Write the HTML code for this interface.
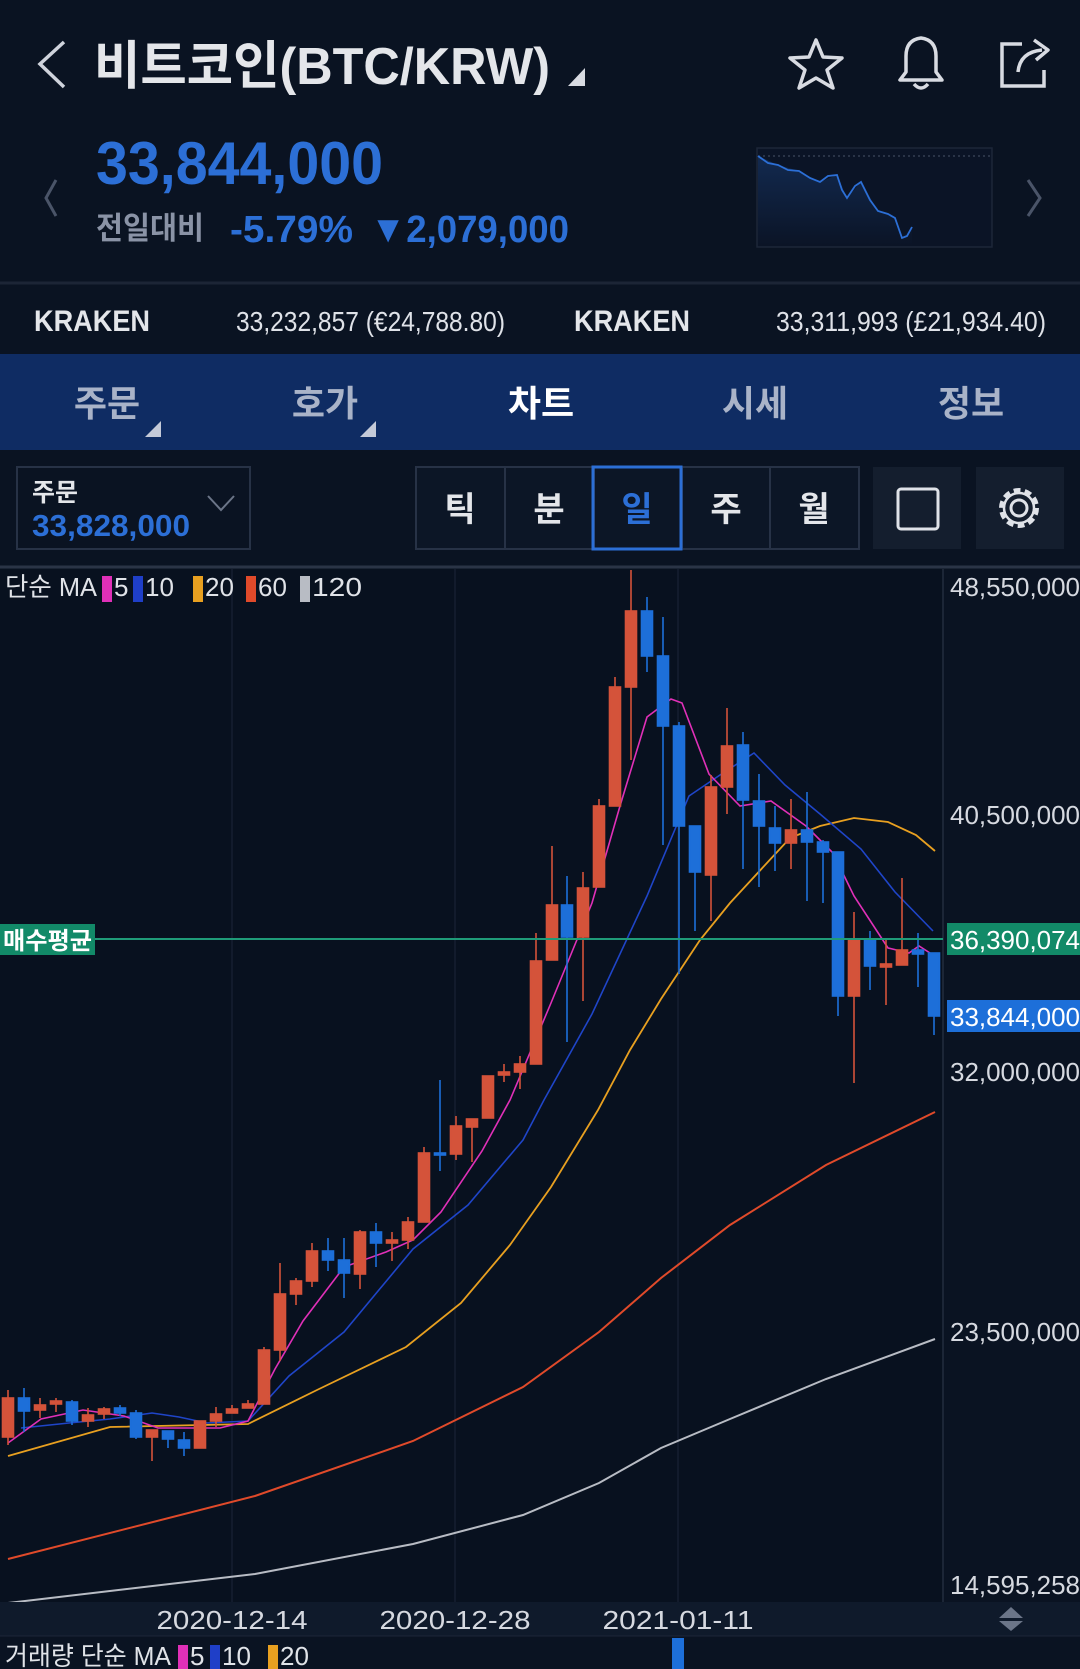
<!DOCTYPE html>
<html><head><meta charset="utf-8">
<style>
html,body{margin:0;padding:0;background:#0a1322;}
body{width:1080px;height:1669px;position:relative;overflow:hidden;font-family:"Liberation Sans","Noto Sans CJK KR",sans-serif;color:#e6e8ee;}
.a{position:absolute;white-space:nowrap;}
</style></head><body>
<svg class="a" style="left:0;top:0" width="1080" height="1669" xmlns="http://www.w3.org/2000/svg" font-family="Liberation Sans, Noto Sans CJK KR, sans-serif">
<!-- header -->
<polyline points="64,42 40,64 64,87" fill="none" stroke="#cfd3dc" stroke-width="3.5"/>
<text x="94" y="84" font-size="52" font-weight="bold" fill="#e4e6ea" textLength="456" lengthAdjust="spacingAndGlyphs">비트코인(BTC/KRW)</text>
<polygon points="568,86 585,86 585,68" fill="#d8dbe2"/>
<polygon points="816,40 823,57 842,58 827,70 833,88 816,78 799,88 805,70 790,58 809,57" fill="none" stroke="#d8dbe2" stroke-width="3.5" stroke-linejoin="round"/>
<path d="M900,80 L942,80 L936,72 L936,56 Q936,40 921,38 Q906,40 906,56 L906,72 Z" fill="none" stroke="#d8dbe2" stroke-width="3.5" stroke-linejoin="round"/>
<path d="M914,84 Q921,92 928,84" fill="none" stroke="#d8dbe2" stroke-width="3.5"/>
<path d="M1022,44 L1002,44 L1002,86 L1044,86 L1044,70" fill="none" stroke="#d8dbe2" stroke-width="3.5"/>
<path d="M1018,72 Q1020,52 1042,50 M1034,40 L1048,50 L1036,60" fill="none" stroke="#d8dbe2" stroke-width="3.5" stroke-linejoin="round"/>
<text x="96" y="184" font-size="60" font-weight="bold" fill="#2c6fd6" textLength="287" lengthAdjust="spacingAndGlyphs">33,844,000</text>
<text x="96" y="239" font-size="31" font-weight="bold" fill="#8a93a6" textLength="108" lengthAdjust="spacingAndGlyphs">전일대비</text>
<text x="230" y="242" font-size="38" font-weight="bold" fill="#2c6fd6" textLength="123" lengthAdjust="spacingAndGlyphs">-5.79%</text>
<text x="370" y="242" font-size="38" font-weight="bold" fill="#2c6fd6" textLength="199" lengthAdjust="spacingAndGlyphs">▼2,079,000</text>
<polyline points="56,180 46,198 56,216" fill="none" stroke="#4a5468" stroke-width="3"/>
<polyline points="1028,180 1040,198 1028,216" fill="none" stroke="#4a5468" stroke-width="3"/>
<rect x="757" y="148" width="235" height="99" fill="#0b1426" stroke="#1c2638" stroke-width="1.5"/>
<line x1="758" y1="156" x2="990" y2="156" stroke="#4a5468" stroke-dasharray="2,3"/>
<defs><linearGradient id="g" x1="0" y1="0" x2="0" y2="1"><stop offset="0" stop-color="#17386b"/><stop offset="1" stop-color="#0b1426"/></linearGradient></defs>
<polygon points="758,156 778,165 799,171 820,182 837,175 847,198 861,182 878,211 895,218 902,238 912,227 912,246 758,246" fill="url(#g)" opacity="0.6"/>
<polyline points="758,156 768,163 778,165 788,170 799,171 810,178 820,182 828,176 837,175 842,190 847,198 855,186 861,182 870,200 878,211 888,214 895,218 902,238 907,236 912,227" fill="none" stroke="#2c6fd6" stroke-width="1.8"/>
<line x1="0" y1="283" x2="1080" y2="283" stroke="#1c2536" stroke-width="3"/>
<text x="34" y="331" font-size="30" font-weight="bold" fill="#e4e6ea" textLength="116" lengthAdjust="spacingAndGlyphs">KRAKEN</text>
<text x="236" y="331" font-size="28" fill="#dfe2e8" textLength="269" lengthAdjust="spacingAndGlyphs">33,232,857 (€24,788.80)</text>
<text x="574" y="331" font-size="30" font-weight="bold" fill="#e4e6ea" textLength="116" lengthAdjust="spacingAndGlyphs">KRAKEN</text>
<text x="776" y="331" font-size="28" fill="#dfe2e8" textLength="270" lengthAdjust="spacingAndGlyphs">33,311,993 (£21,934.40)</text>
<rect x="0" y="354" width="1080" height="96" fill="#0f2c63"/>
<g font-size="36" font-weight="bold" text-anchor="middle">
<text x="107" y="416" fill="#a9b3c8">주문</text>
<text x="325" y="416" fill="#a9b3c8">호가</text>
<text x="541" y="416" fill="#ffffff">차트</text>
<text x="755" y="416" fill="#a9b3c8">시세</text>
<text x="971" y="416" fill="#a9b3c8">정보</text>
</g>
<polygon points="145,437 161,437 161,421" fill="#c4cad8"/>
<polygon points="360,437 376,437 376,421" fill="#c4cad8"/>
<rect x="17" y="467" width="233" height="82" fill="#0a1322" stroke="#273246" stroke-width="2"/>
<text x="32" y="501" font-size="25" font-weight="bold" fill="#e4e6ea">주문</text>
<text x="32" y="536" font-size="31" font-weight="bold" fill="#2c6fd6" textLength="158" lengthAdjust="spacingAndGlyphs">33,828,000</text>
<polyline points="208,496 221,510 234,496" fill="none" stroke="#6b7588" stroke-width="2"/>
<rect x="416" y="467" width="443" height="82" fill="#0c1626" stroke="#273246" stroke-width="2"/>
<line x1="505" y1="467" x2="505" y2="549" stroke="#273246" stroke-width="2"/>
<line x1="594" y1="467" x2="594" y2="549" stroke="#273246" stroke-width="2"/>
<line x1="682" y1="467" x2="682" y2="549" stroke="#273246" stroke-width="2"/>
<line x1="770" y1="467" x2="770" y2="549" stroke="#273246" stroke-width="2"/>
<rect x="593" y="467" width="88" height="82" fill="none" stroke="#2c6fd6" stroke-width="3"/>
<g font-size="34" font-weight="bold" text-anchor="middle">
<text x="460" y="521" fill="#e4e6ea">틱</text>
<text x="549" y="521" fill="#e4e6ea">분</text>
<text x="637" y="521" fill="#2c6fd6">일</text>
<text x="726" y="521" fill="#e4e6ea">주</text>
<text x="814" y="521" fill="#e4e6ea">월</text>
</g>
<rect x="873" y="467" width="88" height="82" fill="#141e2e"/>
<rect x="898" y="489" width="40" height="40" rx="3" fill="none" stroke="#dfe2e8" stroke-width="3"/>
<rect x="976" y="467" width="88" height="82" fill="#141e2e"/>
<circle cx="1019" cy="508" r="8" fill="none" stroke="#dfe2e8" stroke-width="3"/>
<circle cx="1019" cy="508" r="17" fill="none" stroke="#dfe2e8" stroke-width="6" stroke-dasharray="6.5,4.2"/>
<circle cx="1019" cy="508" r="15" fill="none" stroke="#dfe2e8" stroke-width="2.5"/>
<line x1="0" y1="567" x2="1080" y2="567" stroke="#2a3446" stroke-width="3"/>
<rect x="0" y="569" width="943" height="1033" fill="#08111f"/>
<rect x="943" y="569" width="137" height="1033" fill="#0a1322"/>
<line x1="943" y1="569" x2="943" y2="1602" stroke="#232d3e" stroke-width="1.5"/>
<line x1="232" y1="569" x2="232" y2="1602" stroke="#151f30" stroke-width="1.5"/>
<line x1="455" y1="569" x2="455" y2="1602" stroke="#151f30" stroke-width="1.5"/>
<line x1="678" y1="569" x2="678" y2="1602" stroke="#151f30" stroke-width="1.5"/>
<polyline points="8,1603 255,1574 413,1544 523,1515 599,1483 661,1448 730,1419 826,1379 935,1339" fill="none" stroke="#b8bcc4" stroke-width="2"/>
<polyline points="8,1559 255,1496 413,1441 523,1387 599,1332 661,1278 730,1225 826,1165 935,1112" fill="none" stroke="#e04a2a" stroke-width="2"/>
<polyline points="8,1456 110,1427 248,1424 317,1390 406,1347 461,1303 510,1245 551,1187 598,1110 630,1050 661,999 700,940 730,903 790,838 820,826 854,818 888,822 916,835 935,851" fill="none" stroke="#e8a020" stroke-width="1.8"/>
<polyline points="21,1428 69,1423 110,1419 152,1413 179,1417 207,1423 248,1421 289,1376 344,1332 413,1249 468,1205 523,1140 544,1100 592,1014 647,896 689,796 720,775 754,753 785,785 820,814 861,849 895,892 933,931" fill="none" stroke="#1f45c8" stroke-width="1.6"/>
<polyline points="8,1443 41,1419 83,1410 124,1416 158,1428 193,1428 220,1428 248,1421 275,1369 303,1321 344,1267 386,1252 413,1240 441,1212 482,1151 510,1100 551,1003 592,903 620,806 647,717 671,699 682,703 709,774 740,806 771,801 806,826 833,853 854,896 888,948 909,953 919,946 930,953" fill="none" stroke="#e030b8" stroke-width="1.6"/>
<g stroke-width="1.6">
<g stroke="#d4533a" fill="#d4533a">
<line x1="8" y1="1390" x2="8" y2="1445"/><rect x="2.5" y="1398" width="11" height="39"/>
<line x1="40" y1="1398" x2="40" y2="1418"/><rect x="34.5" y="1405" width="11" height="5"/>
<line x1="56" y1="1398" x2="56" y2="1412"/><rect x="50.5" y="1401" width="11" height="3"/>
<line x1="88" y1="1408" x2="88" y2="1427"/><rect x="82.5" y="1415" width="11" height="6"/>
<line x1="104" y1="1407" x2="104" y2="1419"/><rect x="98.5" y="1409" width="11" height="5"/>
<line x1="152" y1="1430" x2="152" y2="1461"/><rect x="146.5" y="1430" width="11" height="7"/>
<line x1="200" y1="1421" x2="200" y2="1448"/><rect x="194.5" y="1421" width="11" height="27"/>
<line x1="216" y1="1407" x2="216" y2="1427"/><rect x="210.5" y="1414" width="11" height="7"/>
<line x1="232" y1="1405" x2="232" y2="1413"/><rect x="226.5" y="1409" width="11" height="4"/>
<line x1="248" y1="1400" x2="248" y2="1408"/><rect x="242.5" y="1404" width="11" height="4"/>
<line x1="264" y1="1347" x2="264" y2="1404"/><rect x="258.5" y="1350" width="11" height="54"/>
<line x1="280" y1="1263" x2="280" y2="1361"/><rect x="274.5" y="1294" width="11" height="56"/>
<line x1="296" y1="1278" x2="296" y2="1305"/><rect x="290.5" y="1281" width="11" height="13"/>
<line x1="312" y1="1243" x2="312" y2="1287"/><rect x="306.5" y="1251" width="11" height="30"/>
<line x1="360" y1="1230" x2="360" y2="1289"/><rect x="354.5" y="1232" width="11" height="42"/>
<line x1="392" y1="1232" x2="392" y2="1261"/><rect x="386.5" y="1240" width="11" height="3"/>
<line x1="408" y1="1217" x2="408" y2="1249"/><rect x="402.5" y="1222" width="11" height="18"/>
<line x1="424" y1="1147" x2="424" y2="1222"/><rect x="418.5" y="1153" width="11" height="69"/>
<line x1="456" y1="1116" x2="456" y2="1160"/><rect x="450.5" y="1126" width="11" height="28"/>
<line x1="472" y1="1119" x2="472" y2="1162"/><rect x="466.5" y="1119" width="11" height="8"/>
<line x1="488" y1="1076" x2="488" y2="1118"/><rect x="482.5" y="1076" width="11" height="42"/>
<line x1="504" y1="1064" x2="504" y2="1082"/><rect x="498.5" y="1072" width="11" height="3"/>
<line x1="520" y1="1056" x2="520" y2="1089"/><rect x="514.5" y="1064" width="11" height="8"/>
<line x1="536" y1="933" x2="536" y2="1064"/><rect x="530.5" y="961" width="11" height="103"/>
<line x1="552" y1="846" x2="552" y2="960"/><rect x="546.5" y="905" width="11" height="55"/>
<line x1="583" y1="872" x2="583" y2="1001"/><rect x="577.5" y="888" width="11" height="49"/>
<line x1="599" y1="799" x2="599" y2="887"/><rect x="593.5" y="806" width="11" height="81"/>
<line x1="615" y1="677" x2="615" y2="806"/><rect x="609.5" y="687" width="11" height="119"/>
<line x1="631" y1="570" x2="631" y2="760"/><rect x="625.5" y="611" width="11" height="76"/>
<line x1="711" y1="775" x2="711" y2="921"/><rect x="705.5" y="787" width="11" height="88"/>
<line x1="727" y1="708" x2="727" y2="814"/><rect x="721.5" y="746" width="11" height="41"/>
<line x1="791" y1="799" x2="791" y2="869"/><rect x="785.5" y="830" width="11" height="13"/>
<line x1="854" y1="912" x2="854" y2="1083"/><rect x="848.5" y="940" width="11" height="56"/>
<line x1="886" y1="940" x2="886" y2="1005"/><rect x="880.5" y="964" width="11" height="3"/>
<line x1="902" y1="878" x2="902" y2="965"/><rect x="896.5" y="950" width="11" height="15"/>
</g>
<g stroke="#1d6fd9" fill="#1d6fd9">
<line x1="24" y1="1388" x2="24" y2="1432"/><rect x="18.5" y="1398" width="11" height="13"/>
<line x1="72" y1="1400" x2="72" y2="1425"/><rect x="66.5" y="1402" width="11" height="19"/>
<line x1="120" y1="1405" x2="120" y2="1416"/><rect x="114.5" y="1408" width="11" height="5"/>
<line x1="136" y1="1410" x2="136" y2="1439"/><rect x="130.5" y="1413" width="11" height="24"/>
<line x1="168" y1="1431" x2="168" y2="1448"/><rect x="162.5" y="1431" width="11" height="8"/>
<line x1="184" y1="1432" x2="184" y2="1456"/><rect x="178.5" y="1440" width="11" height="8"/>
<line x1="328" y1="1238" x2="328" y2="1271"/><rect x="322.5" y="1251" width="11" height="9"/>
<line x1="344" y1="1238" x2="344" y2="1298"/><rect x="338.5" y="1260" width="11" height="13"/>
<line x1="376" y1="1223" x2="376" y2="1267"/><rect x="370.5" y="1232" width="11" height="11"/>
<line x1="440" y1="1080" x2="440" y2="1171"/><rect x="434.5" y="1153" width="11" height="2"/>
<line x1="567" y1="876" x2="567" y2="1042"/><rect x="561.5" y="905" width="11" height="32"/>
<line x1="647" y1="597" x2="647" y2="672"/><rect x="641.5" y="611" width="11" height="45"/>
<line x1="663" y1="617" x2="663" y2="845"/><rect x="657.5" y="656" width="11" height="70"/>
<line x1="679" y1="722" x2="679" y2="974"/><rect x="673.5" y="726" width="11" height="100"/>
<line x1="695" y1="826" x2="695" y2="931"/><rect x="689.5" y="826" width="11" height="46"/>
<line x1="743" y1="732" x2="743" y2="869"/><rect x="737.5" y="745" width="11" height="55"/>
<line x1="759" y1="774" x2="759" y2="887"/><rect x="753.5" y="801" width="11" height="25"/>
<line x1="775" y1="806" x2="775" y2="871"/><rect x="769.5" y="828" width="11" height="15"/>
<line x1="807" y1="792" x2="807" y2="901"/><rect x="801.5" y="830" width="11" height="12"/>
<line x1="823" y1="840" x2="823" y2="903"/><rect x="817.5" y="842" width="11" height="10"/>
<line x1="838" y1="852" x2="838" y2="1016"/><rect x="832.5" y="852" width="11" height="144"/>
<line x1="870" y1="931" x2="870" y2="990"/><rect x="864.5" y="940" width="11" height="26"/>
<line x1="918" y1="933" x2="918" y2="987"/><rect x="912.5" y="950" width="11" height="4"/>
<line x1="934" y1="953" x2="934" y2="1035"/><rect x="928.5" y="953" width="11" height="63"/>
</g>
</g>
<line x1="0" y1="939" x2="943" y2="939" stroke="#1f9b78" stroke-width="2"/>
<rect x="0" y="924" width="95" height="31" fill="#128a68"/>
<text x="3" y="949" font-size="24" font-weight="bold" fill="#ffffff" textLength="89" lengthAdjust="spacingAndGlyphs">매수평균</text>
<rect x="947" y="923" width="133" height="32" fill="#128a68"/>
<text x="950" y="949" font-size="26" fill="#ffffff" textLength="130" lengthAdjust="spacingAndGlyphs">36,390,074</text>
<rect x="947" y="1000" width="133" height="32" fill="#1d6fd9"/>
<text x="950" y="1026" font-size="26" fill="#ffffff" textLength="130" lengthAdjust="spacingAndGlyphs">33,844,000</text>
<g font-size="26" fill="#d6d9e0">
<text x="950" y="596" textLength="130" lengthAdjust="spacingAndGlyphs">48,550,000</text>
<text x="950" y="824" textLength="130" lengthAdjust="spacingAndGlyphs">40,500,000</text>
<text x="950" y="1081" textLength="130" lengthAdjust="spacingAndGlyphs">32,000,000</text>
<text x="950" y="1341" textLength="130" lengthAdjust="spacingAndGlyphs">23,500,000</text>
<text x="950" y="1594" textLength="130" lengthAdjust="spacingAndGlyphs">14,595,258</text>
</g>
<g font-size="26" fill="#e0e3e8">
<text x="5" y="596" textLength="92" lengthAdjust="spacingAndGlyphs">단순 MA</text>
<rect x="102" y="576" width="10" height="26" fill="#e030b8"/><text x="114" y="596">5</text>
<rect x="133" y="576" width="10" height="26" fill="#1f3fc8"/><text x="145" y="596">10</text>
<rect x="193" y="576" width="10" height="26" fill="#e8a020"/><text x="205" y="596">20</text>
<rect x="246" y="576" width="10" height="26" fill="#e04a2a"/><text x="258" y="596">60</text>
<rect x="300" y="576" width="10" height="26" fill="#b8bcc4"/><text x="312" y="596" textLength="50" lengthAdjust="spacingAndGlyphs">120</text>
</g>
<rect x="0" y="1602" width="1080" height="34" fill="#0f1a2b"/>
<g font-size="26" fill="#d6d9e0" text-anchor="middle">
<text x="232" y="1629" textLength="151" lengthAdjust="spacingAndGlyphs">2020-12-14</text>
<text x="455" y="1629" textLength="151" lengthAdjust="spacingAndGlyphs">2020-12-28</text>
<text x="678" y="1629" textLength="151" lengthAdjust="spacingAndGlyphs">2021-01-11</text>
</g>
<polygon points="1011,1607 999,1618 1023,1618" fill="#6b7588"/>
<polygon points="1011,1631 999,1621 1023,1621" fill="#6b7588"/>
<line x1="0" y1="1636" x2="1080" y2="1636" stroke="#1c2638" stroke-width="1"/>
<rect x="672" y="1638" width="12" height="31" fill="#1d6fd9"/>
<g font-size="26" fill="#e0e3e8">
<text x="5" y="1665" textLength="166" lengthAdjust="spacingAndGlyphs">거래량 단순 MA</text>
<rect x="178" y="1645" width="10" height="26" fill="#e030b8"/><text x="190" y="1665">5</text>
<rect x="210" y="1645" width="10" height="26" fill="#1f3fc8"/><text x="222" y="1665">10</text>
<rect x="268" y="1645" width="10" height="26" fill="#e8a020"/><text x="280" y="1665">20</text>
</g>
</svg>
</body></html>
